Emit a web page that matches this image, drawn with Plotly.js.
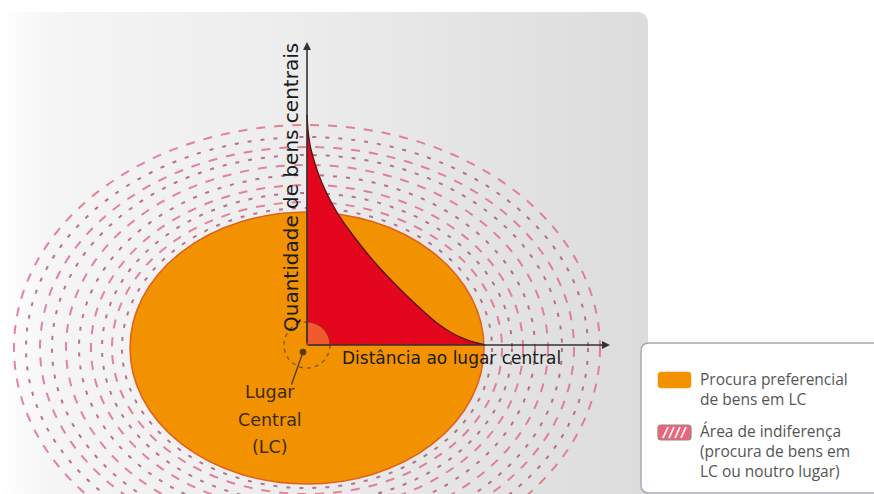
<!DOCTYPE html>
<html>
<head>
<meta charset="utf-8">
<script src="https://cdn.plot.ly/plotly-3.0.1.min.js"></script>
<style>
  html, body { margin:0; padding:0; background:#ffffff; width:874px; height:494px; overflow:hidden; }
  #panel { position:absolute; left:0; top:12px; width:648px; height:490px;
           border-top-right-radius:10px;
           background:linear-gradient(to right, #ffffff 0%, #f5f5f5 8%, #eeeeee 40%, #dcdcdc 100%); }
  #chart { position:absolute; left:0; top:0; width:874px; height:494px; }
</style>
</head>
<body>
<div id="panel"></div>
<div id="chart"></div>
<script>
// ---- data (diagram units: origin = Lugar Central) ----
const ringRx = [293, 281, 267, 255, 241, 228, 216, 205, 195, 185];
const ringRy = [223, 211, 201, 193, 183, 173, 163, 155, 146, 140];
const preferRx = 177;
const preferRy = 136;
const centerOffsetY = -3;

const distance = [0, 1, 3, 6, 10, 15, 22, 31, 42, 55, 70, 85, 100, 115, 130, 145, 160, 170, 178];
const quantity = [230, 215, 200, 188, 175, 162, 147, 131, 115, 98, 80, 64, 49, 35, 22, 12, 5, 2, 0];

const axisMax = 303;
const lcRadius = 23;

const xLabel = 'Distância ao lugar central';
const yLabel = 'Quantidade de bens centrais';
const lcLabel = ['Lugar', 'Central', '(LC)'];
const legendPrefer = ['Procura preferencial', 'de bens em LC'];
const legendIndiff = ['Área de indiferença', '(procura de bens em', 'LC ou noutro lugar)'];

// ---- shapes ----
const shapes = [];
ringRx.forEach((rx, i) => {
  const ry = ringRy[i];
  shapes.push({
    type: 'circle', layer: 'below', xref: 'x', yref: 'y',
    x0: -rx, x1: rx, y0: centerOffsetY - ry, y1: centerOffsetY + ry,
    line: { color: i % 2 === 0 ? '#e27084' : '#b25c78', width: 2, dash: i % 2 === 0 ? '9px,9px' : '4px,9px' },
    fillcolor: 'rgba(0,0,0,0)', opacity: 0.85
  });
});
shapes.push({
  type: 'circle', layer: 'below', xref: 'x', yref: 'y',
  x0: -preferRx, x1: preferRx, y0: centerOffsetY - preferRy, y1: centerOffsetY + preferRy,
  line: { color: '#e0601a', width: 1.5 }, fillcolor: '#f39200'
});
shapes.push({
  type: 'circle', layer: 'below', xref: 'x', yref: 'y',
  x0: -lcRadius, x1: lcRadius, y0: -lcRadius, y1: lcRadius,
  line: { color: '#8a5a20', width: 1.5, dash: '4px,4px' }, fillcolor: 'rgba(0,0,0,0)'
});
const k = lcRadius * 0.5523;
shapes.push({
  type: 'path', layer: 'above', xref: 'x', yref: 'y',
  path: `M 0,0 L ${lcRadius},0 C ${lcRadius},${k} ${k},${lcRadius} 0,${lcRadius} Z`,
  fillcolor: '#ef5b2c', line: { color: '#b02010', width: 1 }
});
// legend box
shapes.push({
  type: 'path', layer: 'above', xref: 'x', yref: 'y',
  path: 'M 580,2 L 342,2 Q 334,2 334,-6 L 334,-140 Q 334,-148 342,-148 L 580,-148',
  fillcolor: '#ffffff', line: { color: '#a8a8b2', width: 1.5 }
});
shapes.push({
  type: 'path', layer: 'above', xref: 'x', yref: 'y',
  path: 'M 354,-27 L 381,-27 Q 384,-27 384,-30 L 384,-40 Q 384,-43 381,-43 L 354,-43 Q 351,-43 351,-40 L 351,-30 Q 351,-27 354,-27 Z',
  fillcolor: '#f39200', line: { color: '#f39200', width: 0.5 }
});
shapes.push({
  type: 'path', layer: 'above', xref: 'x', yref: 'y',
  path: 'M 354,-80 L 381,-80 Q 384,-80 384,-83 L 384,-92 Q 384,-95 381,-95 L 354,-95 Q 351,-95 351,-92 L 351,-83 Q 351,-80 354,-80 Z',
  fillcolor: '#ee6478', line: { color: '#8c8c8c', width: 1.2 }
});
[356, 362, 368, 374].forEach(x => {
  shapes.push({ type: 'line', layer: 'above', xref: 'x', yref: 'y',
    x0: x, y0: -93, x1: x + 5, y1: -82, line: { color: '#ffffff', width: 1.8 } });
});

// ---- traces ----
const traces = [
  {
    x: [0].concat(distance), y: [0].concat(quantity),
    mode: 'lines', fill: 'toself', fillcolor: '#e3061c',
    line: { width: 0, shape: 'spline', smoothing: 0.8 }, hoverinfo: 'skip', showlegend: false
  },
  {
    x: distance, y: quantity, mode: 'lines',
    line: { color: '#5a1414', width: 1.4, shape: 'spline', smoothing: 0.8 },
    hoverinfo: 'skip', showlegend: false
  }
];

// ---- annotations ----
const ann = [];
const arrow = (x, y, ax, ay) => ({
  x, y, ax, ay, xref: 'x', yref: 'y', axref: 'x', ayref: 'y', text: '',
  showarrow: true, arrowhead: 2, arrowsize: 1, arrowwidth: 1.6, arrowcolor: '#333333'
});
ann.push(arrow(0, axisMax, 0, 0));
ann.push(arrow(axisMax, 0, 0, 0));
ann.push({ x: -4, y: -7, ax: -16, ay: -41, xref: 'x', yref: 'y', axref: 'x', ayref: 'y', text: '',
  showarrow: true, arrowhead: 6, arrowsize: 1.2, arrowwidth: 1.4, arrowcolor: '#5a3a10' });
ann.push({ x: -16, y: 157, xref: 'x', yref: 'y', text: yLabel, textangle: -90, showarrow: false,
  font: { family: 'DejaVu Sans', size: 20, color: '#1a1a1a' } });
ann.push({ x: 33, y: -13, xref: 'x', yref: 'y', text: xLabel, xanchor: 'left', showarrow: false,
  font: { family: 'DejaVu Sans', size: 17, color: '#1a1a1a' } });
const lcY = [-47, -75, -102];
lcLabel.forEach((t, i) => ann.push({ x: -37, y: lcY[i], xref: 'x', yref: 'y', text: t, showarrow: false,
  font: { family: 'DejaVu Sans', size: 17.5, color: '#3e2a0c' } }));
ann.push({ x: 391, y: -44, xref: 'x', yref: 'y', text: legendPrefer.join('<br>'), xanchor: 'left', align: 'left',
  showarrow: false, font: { family: 'Open Sans', size: 15.5, color: '#555555' } });
ann.push({ x: 391, y: -106, xref: 'x', yref: 'y', text: legendIndiff.join('<br>'), xanchor: 'left', align: 'left',
  showarrow: false, font: { family: 'Open Sans', size: 15.5, color: '#555555' } });

const layout = {
  width: 874, height: 494,
  margin: { l: 0, r: 0, t: 0, b: 0 },
  paper_bgcolor: 'rgba(0,0,0,0)', plot_bgcolor: 'rgba(0,0,0,0)',
  xaxis: { range: [-307, 567], visible: false, fixedrange: true },
  yaxis: { range: [-149, 345], visible: false, fixedrange: true },
  shapes, annotations: ann, showlegend: false, hovermode: false
};

Plotly.newPlot('chart', traces, layout, { displayModeBar: false, staticPlot: true });
</script>
</body>
</html>
